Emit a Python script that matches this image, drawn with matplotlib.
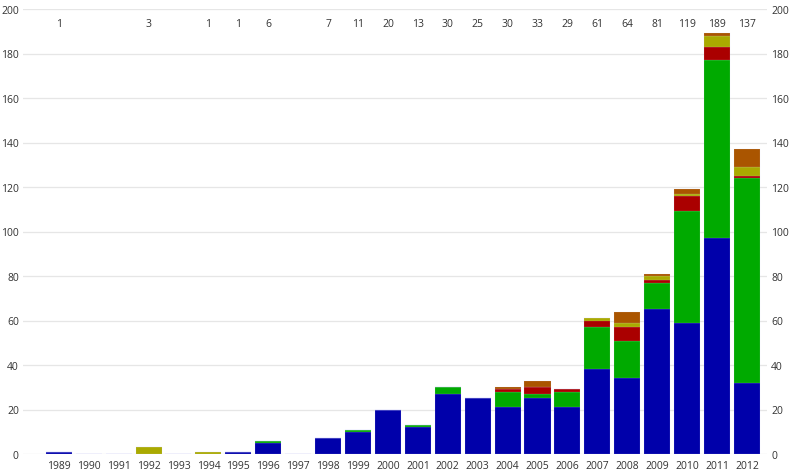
import matplotlib.pyplot as plt
import numpy as np

years = [str(y) for y in range(1989, 2013)]

# stacked segments, bottom to top
blue = [1, 0, 0, 0, 0, 0, 1, 5, 0, 7, 10, 20, 12, 27, 25, 21, 25, 21, 38, 34, 65, 59, 97, 32]
green = [0, 0, 0, 0, 0, 0, 0, 1, 0, 0, 1, 0, 1, 3, 0, 7, 2, 7, 19, 17, 12, 50, 80, 92]
red = [0, 0, 0, 0, 0, 0, 0, 0, 0, 0, 0, 0, 0, 0, 0, 1, 3, 1, 3, 6, 1, 7, 6, 1]
olive = [0, 0, 0, 3, 0, 1, 0, 0, 0, 0, 0, 0, 0, 0, 0, 0, 0, 0, 1, 2, 2, 1, 5, 4]
brown = [0, 0, 0, 0, 0, 0, 0, 0, 0, 0, 0, 0, 0, 0, 0, 1, 3, 0, 0, 5, 1, 2, 1, 8]

series = [
    (blue, "#0000aa"),
    (green, "#00aa00"),
    (red, "#aa0000"),
    (olive, "#aaaa00"),
    (brown, "#aa5500"),
]

plt.rcParams["font.family"] = ["Open Sans", "DejaVu Sans"]

fig = plt.figure(figsize=(8, 4.77), dpi=100)
W, H = 800, 477
left, right, top, bottom = 23, 767, 10, 455
ax = fig.add_axes([left / W, 1 - bottom / H, (right - left) / W, (bottom - top) / H])

x = np.arange(len(years))
base = np.zeros(len(years))
for vals, col in series:
    vals = np.array(vals, dtype=float)
    ax.bar(x, vals, bottom=base, width=0.87, color=col,
           edgecolor=(0.85, 0.85, 1, 0.4), linewidth=0.25, zorder=3)
    base += vals

totals = base.astype(int)
for xi, t in zip(x, totals):
    if t > 0:
        ax.text(xi, 193.3, str(t), ha="center", va="center", fontsize=7.5, color="#333333")

ax.set_xlim(-1.195, 23.67)
ax.set_ylim(0, 200)
ax.set_yticks(range(0, 201, 20))
ax.set_xticks(x)
ax.set_xticklabels(years)
ax.grid(axis="y", color="#e6e6e6", linewidth=0.9, zorder=0)
ax.tick_params(axis="y", length=0, labelsize=7.5, labelcolor="#333333", pad=3,
               labelleft=True, labelright=True)
ax.tick_params(axis="x", length=0, labelsize=7.5, labelcolor="#333333", pad=4)
for s in ax.spines.values():
    s.set_visible(False)

fig.savefig("out.png", dpi=100)
